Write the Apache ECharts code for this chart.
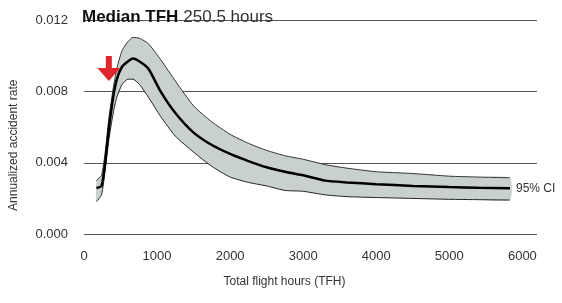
<!DOCTYPE html>
<html>
<head>
<meta charset="utf-8">
<script src="https://cdn.jsdelivr.net/npm/echarts@6/dist/echarts.min.js"></script>
<style>html,body{margin:0;padding:0;background:#fff;}#c{width:562px;height:303px;}</style>
</head>
<body>
<div id="c"></div>
<script>
// Total flight hours (x values)
const tfh = [170, 240, 290, 340, 400, 450, 520, 600, 670, 760, 880, 1050, 1250, 1500, 1750, 2000, 2250, 2500, 2750, 3000, 3300, 3600, 4000, 4500, 5000, 5400, 5830];
// Median annualized accident rate
const rateMid = [0.00258, 0.0027, 0.0040, 0.0059, 0.0077, 0.0087, 0.0094, 0.0097, 0.00987, 0.0097, 0.0093, 0.0080, 0.0068, 0.0057, 0.0050, 0.0045, 0.0041, 0.00375, 0.0035, 0.0033, 0.0030, 0.0029, 0.0028, 0.0027, 0.00264, 0.0026, 0.00257];
// Upper 95% CI
const rateUpper = [0.0030, 0.0033, 0.0046, 0.0065, 0.0082, 0.0093, 0.0103, 0.0108, 0.01105, 0.0110, 0.0107, 0.0098, 0.0086, 0.0072, 0.0063, 0.0056, 0.0051, 0.0047, 0.0044, 0.0042, 0.0039, 0.0037, 0.0035, 0.0034, 0.00325, 0.0032, 0.00316];
// Lower 95% CI
const rateLower = [0.00182, 0.0022, 0.0036, 0.0053, 0.0068, 0.0077, 0.0084, 0.0087, 0.0087, 0.0084, 0.0077, 0.0066, 0.0055, 0.0046, 0.0038, 0.0032, 0.0029, 0.0027, 0.00245, 0.0024, 0.0022, 0.0021, 0.00205, 0.0020, 0.00195, 0.00193, 0.00191];
// Median TFH marker
const medianTFH = 250.5;
const arrowPoint = [340, 0.0086];
const xTicks = [0, 1000, 2000, 3000, 4000, 5000, 6000];

const pairs = (ys) => tfh.map((x, i) => [x, ys[i]]);

const chart = echarts.init(document.getElementById('c'), null, {renderer: 'canvas'});
const font = 'Liberation Sans, Arial, sans-serif';
chart.setOption({
  animation: false,
  backgroundColor: '#ffffff',
  textStyle: {fontFamily: font},
  title: {
    text: '{b|Median TFH} {n|' + medianTFH + ' hours}',
    left: 77, top: 3,
    textStyle: {
      rich: {
        b: {fontFamily: font, fontWeight: 'bold', fontSize: 17, color: '#111'},
        n: {fontFamily: font, fontWeight: 'normal', fontSize: 17, color: '#333'}
      }
    }
  },
  grid: {left: 83, right: 25, top: 20.5, bottom: 69, containLabel: false},
  xAxis: {
    type: 'value', min: 0, max: 6200, interval: 1000,
    name: 'Total flight hours (TFH)', nameLocation: 'middle', nameGap: 42,
    nameTextStyle: {fontSize: 12, color: '#333', padding: [0, 52, 0, 0], fontFamily: font},
    axisLine: {show: false}, axisTick: {show: false}, splitLine: {show: false},
    axisLabel: {fontSize: 13, color: '#333', margin: 16, fontFamily: font,
      customValues: xTicks, formatter: (v) => String(v)}
  },
  yAxis: {
    type: 'value', min: 0, max: 0.012, interval: 0.004,
    name: 'Annualized accident rate', nameLocation: 'middle', nameGap: 64,
    nameTextStyle: {fontSize: 12, color: '#333', padding: [0, 36, 0, 0], fontFamily: font},
    axisLine: {show: false}, axisTick: {show: false},
    splitLine: {show: true, lineStyle: {color: '#555', width: 1}},
    axisLabel: {fontSize: 13, color: '#333', margin: 16, fontFamily: font,
      formatter: (v) => v.toFixed(3)}
  },
  series: [
    {type: 'custom', silent: true, z: 1,
      data: [[tfh[0], rateLower[0]]],
      renderItem: (params, api) => {
        const pts = [];
        for (let i = 0; i < tfh.length; i++) pts.push(api.coord([tfh[i], rateUpper[i]]));
        for (let i = tfh.length - 1; i >= 0; i--) pts.push(api.coord([tfh[i], rateLower[i]]));
        return {type: 'polygon', shape: {points: pts, smooth: 0.2}, style: {fill: '#c9d1cc'}};
      }},
    {type: 'line', data: pairs(rateUpper), symbol: 'none', smooth: 0.2, z: 3,
      lineStyle: {color: '#333', width: 1}},
    {type: 'line', data: pairs(rateLower), symbol: 'none', smooth: 0.2, z: 3,
      lineStyle: {color: '#222', width: 1}},
    {type: 'line', data: pairs(rateMid), symbol: 'none', smooth: 0.2, z: 4,
      lineStyle: {color: '#000', width: 2.5},
      endLabel: {show: true, formatter: '95% CI', fontSize: 12, color: '#333', distance: 6, fontFamily: font},
      markPoint: {
        symbol: 'path://M8.5,0 L14.5,0 L14.5,12 L23,12 L11.5,25 L0,12 L8.5,12 Z',
        symbolSize: [23, 25], symbolOffset: [0, '-50%'],
        itemStyle: {color: '#e0262f'}, label: {show: false},
        data: [{coord: arrowPoint}]
      }}
  ]
});
</script>
</body>
</html>
